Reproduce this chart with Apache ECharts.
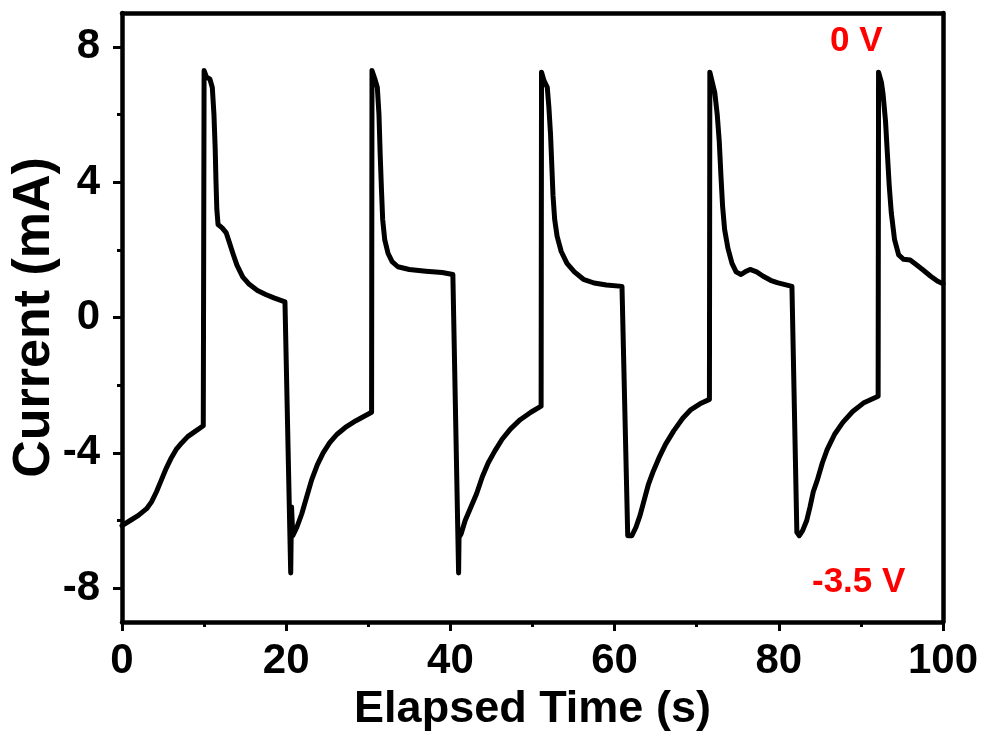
<!DOCTYPE html>
<html>
<head>
<meta charset="utf-8">
<script src="https://cdn.jsdelivr.net/npm/echarts@6/dist/echarts.min.js"></script>
<style>
  html, body { margin: 0; padding: 0; background: #fff; }
  #main { width: 986px; height: 742px; }
</style>
</head>
<body>
<div id="main"></div>
<script>
// elapsed time (s) and current (mA)
var timeS = [
  0, 1, 2, 3, 3.6, 4.2, 4.8, 5.4, 6.0, 6.6, 7.3, 8.0, 9.0, 9.9,
  10.0, 10.3, 10.7, 11.0, 11.2, 11.35, 11.45, 11.55, 11.7, 12.2, 12.7, 13.1, 13.5, 14.0, 14.7, 15.5, 16.5, 17.5, 18.5, 19.85,
  20.55, 20.65, 20.8, 21.3, 21.9, 22.5, 23.1, 23.8, 24.5, 25.3, 26.2, 27.2, 28.5, 29.5, 30.4,
  30.45, 30.8, 31.1, 31.3, 31.45, 31.6, 31.75, 32.0, 32.4, 32.9, 33.6, 35.0, 37.0, 39.0, 40.3,
  41.0, 41.05, 41.3, 41.8, 42.5, 43.2, 43.9, 44.6, 45.4, 46.3, 47.3, 48.5, 49.8, 51.05,
  51.1, 51.4, 51.8, 52.0, 52.2, 52.35, 52.5, 52.7, 53.0, 53.5, 54.2, 55.1, 56.2, 57.5, 59.0, 60.9,
  61.6, 62.1, 62.6, 63.1, 63.6, 64.1, 64.7, 65.4, 66.2, 67.2, 68.3, 69.3, 70.4, 71.55,
  71.6, 71.9, 72.2, 72.5, 72.75, 72.95, 73.15, 73.4, 73.8, 74.3, 74.8, 75.4, 75.9, 76.5, 77.3, 78.1, 79.0, 79.8, 81.6,
  82.2, 82.5, 82.9, 83.4, 83.8, 84.2, 84.7, 85.3, 85.9, 86.8, 87.8, 89.0, 90.3, 92.1,
  92.15, 92.5, 92.7, 93.0, 93.2, 93.45, 93.7, 94.1, 94.6, 95.2, 96.0, 96.8, 97.5, 98.5, 99.3, 100
];
var currentMA = [
  -6.15, -6.0, -5.85, -5.65, -5.45, -5.15, -4.8, -4.45, -4.15, -3.9, -3.7, -3.52, -3.35, -3.2,
  7.3, 7.1, 7.05, 6.8, 6.0, 5.0, 4.0, 3.2, 2.75, 2.65, 2.5, 2.2, 1.9, 1.55, 1.2, 0.98, 0.8, 0.68, 0.58, 0.46,
  -7.55, -5.6, -6.45, -6.2, -5.8, -5.3, -4.8, -4.35, -4.0, -3.7, -3.45, -3.25, -3.05, -2.92, -2.8,
  7.3, 7.05, 6.8, 6.0, 4.8, 3.8, 2.9, 2.3, 1.9, 1.65, 1.5, 1.42, 1.37, 1.33, 1.27,
  -7.55, -6.5, -6.4, -6.0, -5.6, -5.2, -4.7, -4.3, -3.95, -3.6, -3.3, -3.02, -2.8, -2.62,
  7.25, 7.0, 6.8, 6.2, 5.4, 4.5, 3.6, 2.9, 2.4, 1.95, 1.6, 1.35, 1.13, 1.02, 0.96, 0.92,
  -6.45, -6.45, -6.2, -5.85, -5.4, -4.95, -4.55, -4.15, -3.75, -3.35, -2.98, -2.72, -2.55, -2.42,
  7.25, 6.95, 6.65, 6.0, 5.2, 4.2, 3.3, 2.6, 2.05, 1.6, 1.35, 1.27, 1.35, 1.42, 1.35, 1.22, 1.1, 1.03, 0.92,
  -6.35, -6.45, -6.3, -6.0, -5.6, -5.15, -4.8, -4.3, -3.9, -3.45, -3.1, -2.78, -2.53, -2.33,
  7.25, 6.95, 6.6, 5.8, 4.95, 3.9, 3.1, 2.3, 1.85, 1.72, 1.7, 1.55, 1.42, 1.22, 1.08, 1.0
];
var xTicks = [0, 20, 40, 60, 80, 100];
var yTicks = [-8, -4, 0, 4, 8];
var yMinorTicks = [-6, -2, 2, 6];

var points = timeS.map(function (t, i) { return [t, currentMA[i]]; });

var font = 'Liberation Sans, Arial, sans-serif';
var lineStyle = { color: '#000', width: 4.5 };

var chart = echarts.init(document.getElementById('main'));
chart.setOption({
  animation: false,
  backgroundColor: '#fff',
  grid: { left: 122, right: 43, top: 13, bottom: 120, outerBoundsMode: 'none', containLabel: false },
  xAxis: [{
    type: 'value', min: 0, max: 100, interval: 20,
    name: 'Elapsed Time (s)', nameLocation: 'middle', nameGap: 62,
    nameTextStyle: { fontFamily: font, fontWeight: 'bold', fontSize: 45, color: '#000' },
    axisLine: { onZero: false, lineStyle: lineStyle },
    axisTick: { inside: false, length: 9, lineStyle: { color: '#000', width: 3 } },
    minorTick: { show: true, splitNumber: 2, length: 5, lineStyle: { color: '#000', width: 3 } },
    axisLabel: { margin: 18, fontFamily: font, fontWeight: 'bold', fontSize: 42, color: '#000',
      customValues: xTicks },
    splitLine: { show: false }
  }, {
    type: 'value', min: 0, max: 100, position: 'top',
    axisLine: { show: true, onZero: false, lineStyle: lineStyle },
    axisTick: { show: false }, axisLabel: { show: false }, splitLine: { show: false }
  }],
  yAxis: [{
    type: 'value', min: -9, max: 9,
    name: 'Current (mA)', nameLocation: 'middle', nameGap: 61, nameMoveOverlap: false,
    nameTextStyle: { fontFamily: font, fontWeight: 'bold', fontSize: 52, color: '#000' },
    axisLine: { show: true, onZero: false, lineStyle: lineStyle },
    axisTick: { show: true, length: 9, customValues: yTicks, lineStyle: { color: '#000', width: 3 } },
    axisLabel: { margin: 22, fontFamily: font, fontWeight: 'bold', fontSize: 42, color: '#000',
      customValues: yTicks },
    splitLine: { show: false }
  }, {
    type: 'value', min: -9, max: 9, position: 'right',
    axisLine: { show: true, onZero: false, lineStyle: lineStyle },
    axisTick: { show: false }, axisLabel: { show: false }, splitLine: { show: false }
  }, {
    // minor ticks on the left axis
    type: 'value', min: -9, max: 9, position: 'left',
    axisLine: { show: false },
    axisTick: { show: true, length: 5, customValues: yMinorTicks, lineStyle: { color: '#000', width: 3 } },
    axisLabel: { show: false }, splitLine: { show: false }
  }],
  series: [{
    type: 'line',
    data: points,
    showSymbol: false,
    smooth: false,
    lineStyle: { color: '#000', width: 5, join: 'round', cap: 'round' },
    clip: true
  }],
  graphic: [
    { type: 'text', left: 830, top: 24,
      style: { text: '0 V', fill: '#ff0000', font: 'bold 35px ' + font } },
    { type: 'text', left: 812, top: 565,
      style: { text: '-3.5 V', fill: '#ff0000', font: 'bold 35px ' + font } }
  ]
});
</script>
</body>
</html>
